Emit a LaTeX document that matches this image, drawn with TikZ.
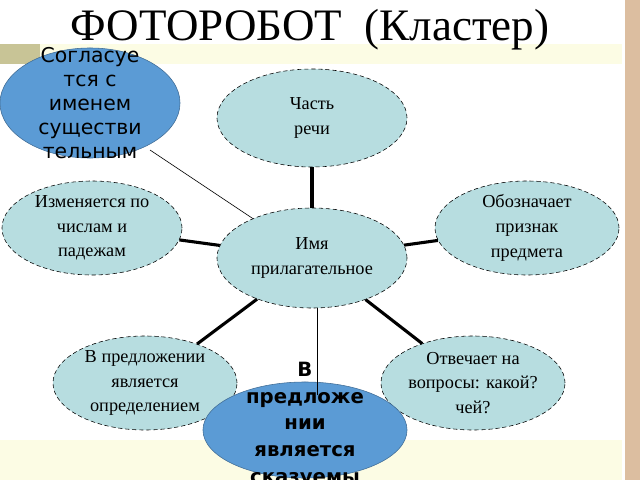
\documentclass[tikz,border=0pt]{standalone}
\usepackage{fontspec}
\setmainfont{Liberation Serif}
\newfontfamily\dejavu{DejaVu Sans}
\usetikzlibrary{shapes,positioning}
\definecolor{bandyellow}{RGB}{252,252,228}
\definecolor{olive}{RGB}{200,196,150}
\definecolor{stripbrown}{RGB}{220,190,160}
\definecolor{bubble}{RGB}{183,221,224}
\definecolor{blueoval}{RGB}{91,155,213}
\begin{document}
\begin{tikzpicture}[x=0.025cm,y=-0.025cm,
idea/.style={
draw=black,
densely dashed,
ellipse,
fill=bubble,
align=center,
font=\fontsize{13}{17.5}\selectfont,
inner sep=0pt,
},
note/.style={
draw=blueoval!70!black,
ellipse,
fill=blueoval,
inner sep=0pt,
},
spoke/.style={line width=2.2pt},
]
\useasboundingbox (0,0) rectangle (640,480);
\clip (0,0) rectangle (640,480);
% background
\fill[stripbrown] (625,0) rectangle (640,480);
\fill[bandyellow] (0,44) rectangle (622,64);
\fill[olive] (0,44) rectangle (40,64);
\fill[bandyellow] (0,440) rectangle (622,480);
\node[font=\fontsize{32}{32}\selectfont] (title) at (310,30) {ФОТОРОБОТ\ \ (Кластер)};

\node[idea,minimum width=4.75cm,minimum height=2.5cm] (center) at (312,258) {Имя\\прилагательное};
\node[idea,minimum width=4.75cm,minimum height=2.45cm] (part) at (312,118) {Часть\\речи};
\node[idea,minimum width=4.5cm,minimum height=2.35cm] (change) at (92,228) {Изменяется по\\числам и\\падежам};
\node[idea,minimum width=4.6cm,minimum height=2.35cm] (sign) at (527,228) {Обозначает\\признак\\предмета};
\node[idea,minimum width=4.6cm,minimum height=2.35cm] (attr) at (145,383) {В предложении\\является\\определением};
\node[idea,minimum width=4.6cm,minimum height=2.35cm] (quest) at (473,383) {Отвечает на\\вопросы: какой?\\чей?};

\draw[spoke] (center) -- (part);
\draw[spoke] (center) -- (change);
\draw[spoke] (center) -- (sign);
\draw[spoke] (center) -- (attr);
\draw[spoke] (center) -- (quest);

\node[note,minimum width=4.5cm,minimum height=2.75cm] (agree) at (90,103) {};
\node[font=\dejavu\fontsize{14.5}{17}\selectfont,align=center] (agreetext) at (90,103) {Согласуе\\тся с\\именем\\существи\\тельным};
\coordinate (agreeend) at (150,150);
\draw[thin] (agreeend) -- (center);

\node[note,minimum width=5.1cm,minimum height=2.4cm] (pred) at (305,430) {};
\coordinate (predtop) at (317,395);
\draw[thin] (center.south) ++(5,0) coordinate (ctrbottom) -- (ctrbottom |- predtop);
\node[font=\dejavu\bfseries\fontsize{14}{19}\selectfont,align=center,anchor=north] (predtext) at (305,357) {В\\предложе\\нии\\является\\сказуемы};
\end{tikzpicture}
\end{document}
